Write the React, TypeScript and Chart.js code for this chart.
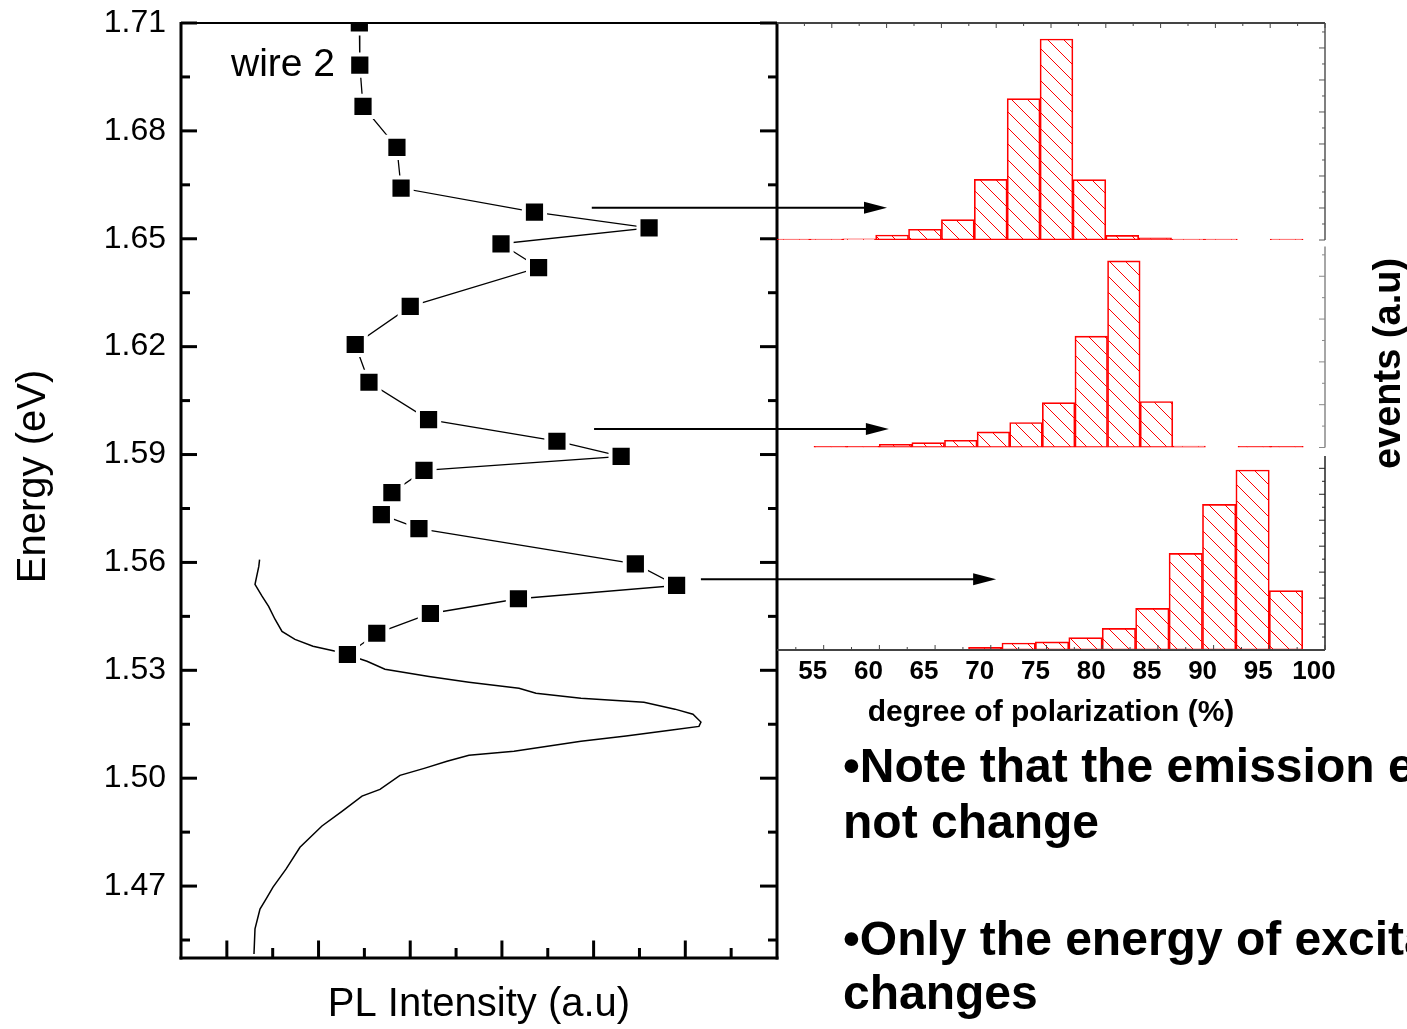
import React, { useEffect, useRef } from 'react';
import { Chart, registerables } from 'chart.js';

Chart.register(...registerables);

const W = 1407;
const H = 1029;
const SANS = "'Liberation Sans', Arial, Helvetica, sans-serif";
const RED = '#ff0000';

// ---------- wire 2: PL intensity versus excitation energy ----------
const excitationEnergy = [
  1.71, 1.6983, 1.6868, 1.6754, 1.6641, 1.6574, 1.653, 1.6486, 1.642, 1.6312,
  1.6206, 1.6101, 1.5997, 1.5937, 1.5895, 1.5856, 1.5794, 1.5733, 1.5694,
  1.5596, 1.5536, 1.5499, 1.5458, 1.5403, 1.5344,
];
const excitationIntensity = [
  3.89, 3.9, 3.97, 4.71, 4.8, 7.71, 10.21, 6.98, 7.8, 5.0,
  3.8, 4.1, 5.4, 8.2, 9.6, 5.3, 4.6, 4.37, 5.19,
  9.91, 10.81, 7.36, 5.44, 4.27, 3.63,
];

// PL emission spectrum
const plEnergy = [
  1.5608, 1.5589, 1.5539, 1.5506, 1.5478, 1.5442, 1.5408, 1.5386, 1.5367, 1.535,
  1.5325, 1.5303, 1.5283, 1.5267, 1.525, 1.5236, 1.5222, 1.5211, 1.5192, 1.5178,
  1.5156, 1.5144, 1.5133, 1.5117, 1.5103, 1.5075, 1.5064, 1.5047, 1.5028, 1.5008,
  1.4969, 1.495, 1.4908, 1.4867, 1.4808, 1.4747, 1.4697, 1.4664, 1.4636, 1.4581, 1.4511,
];
const plIntensity = [
  1.714, 1.697, 1.614, 1.767, 1.911, 2.05, 2.203, 2.486, 2.879, 3.468,
  4.057, 4.449, 5.409, 6.281, 7.372, 7.743, 8.724, 10.098, 10.774, 11.167,
  11.341, 11.298, 10.665, 9.706, 8.724, 7.263, 6.281, 5.802, 5.322, 4.776,
  4.34, 3.948, 3.511, 3.075, 2.595, 2.29, 2.007, 1.854, 1.723, 1.614, 1.592,
];

const energyTicks = [1.47, 1.5, 1.53, 1.56, 1.59, 1.62, 1.65, 1.68, 1.71];
const energyMin = 1.45;
const energyMax = 1.71;
const intensityMin = 0;
const intensityMax = 13;

// arrows from selected excitation energies towards their histograms
const arrowEnergy = [1.6586, 1.5971, 1.5553];
const arrowFrom = [8.96, 9.01, 11.34];
const arrowTo = [15.4, 15.44, 17.78];

// ---------- degree-of-polarization histograms (3 % bins) ----------
const binsHigh = [51.5, 54.5, 57.5, 60.5, 63.5, 66.5, 69.5, 72.5, 75.5, 78.5, 81.5, 84.5, 87.5, 90.5, 93.5, 96.5];
const eventsHigh = [0.6, 0.6, 0.8, 3.1, 6.7, 12.7, 37.9, 88.3, 125.6, 37.7, 2.9, 1.3, 0.6, 0.6, null, 0.6];

const binsMid = [54.5, 57.5, 60.5, 63.5, 66.5, 69.5, 72.5, 75.5, 78.5, 81.5, 84.5, 87.5, 90.5, 93.5, 96.5];
const eventsMid = [0.5, 0.5, 1.5, 2.3, 3.4, 7.3, 11.7, 21.0, 52.0, 87.2, 21.5, 0.7, null, 0.5, 0.5];

const binsLow = [57.5, 60.5, 63.5, 66.5, 69.5, 72.5, 75.5, 78.5, 81.5, 84.5, 87.5, 90.5, 93.5, 96.5];
const eventsLow = [0.5, 0.4, 0.5, 0.5, 2.1, 5.4, 6.2, 9.5, 16.7, 32.1, 74.5, 112.2, 138.7, 45.7];

const polarizationTicks = [55, 60, 65, 70, 75, 80, 85, 90, 95, 100];

function seg(ctx: CanvasRenderingContext2D, x1: number, y1: number, x2: number, y2: number) {
  ctx.beginPath();
  ctx.moveTo(x1, y1);
  ctx.lineTo(x2, y2);
  ctx.stroke();
}

function makeHatch(): CanvasPattern | string {
  const s = 16;
  const c = document.createElement('canvas');
  c.width = s;
  c.height = s;
  const g = c.getContext('2d');
  if (!g) return 'rgba(255,0,0,0.2)';
  g.strokeStyle = RED;
  g.lineWidth = 1;
  g.beginPath();
  g.moveTo(-2, -2);
  g.lineTo(s + 2, s + 2);
  g.moveTo(-2, s - 2);
  g.lineTo(2, s + 2);
  g.moveTo(s - 2, -2);
  g.lineTo(s + 2, 2);
  g.stroke();
  return g.createPattern(c, 'repeat') || 'rgba(255,0,0,0.2)';
}

// frame, inward ticks, arrows and labels of the energy panel
const energyFrame = {
  id: 'energyFrame',
  afterDraw(chart: any) {
    const { ctx, chartArea: a, scales } = chart;
    const xs = scales.x;
    const ys = scales.y;
    ctx.save();
    ctx.strokeStyle = '#000';
    ctx.fillStyle = '#000';
    ctx.lineWidth = 2;
    seg(ctx, a.left, a.top, a.right, a.top);
    ctx.lineWidth = 3;
    seg(ctx, a.left, a.top - 1, a.left, a.bottom + 1.5);
    seg(ctx, a.right, a.top - 1, a.right, a.bottom + 1.5);
    seg(ctx, a.left - 1.5, a.bottom, a.right + 1.5, a.bottom);

    energyTicks.forEach((v) => {
      const py = ys.getPixelForValue(v);
      seg(ctx, a.left, py, a.left + 16, py);
      seg(ctx, a.right - 17, py, a.right, py);
      const pm = ys.getPixelForValue(v - 0.015);
      seg(ctx, a.left, pm, a.left + 9, pm);
      seg(ctx, a.right - 9, pm, a.right, pm);
    });
    for (let i = intensityMin + 1; i < intensityMax; i++) {
      const px = xs.getPixelForValue(i);
      const len = i % 2 === 1 ? 17.5 : 10;
      seg(ctx, px, a.bottom, px, a.bottom - len);
    }

    ctx.lineWidth = 2;
    arrowEnergy.forEach((e, i) => {
      const py = ys.getPixelForValue(e);
      const x1 = xs.getPixelForValue(arrowFrom[i]);
      const x2 = xs.getPixelForValue(arrowTo[i]);
      seg(ctx, x1, py, x2 - 20, py);
      ctx.beginPath();
      ctx.moveTo(x2, py);
      ctx.lineTo(x2 - 23, py - 6);
      ctx.lineTo(x2 - 23, py + 6);
      ctx.closePath();
      ctx.fill();
    });

    ctx.font = `39px ${SANS}`;
    ctx.textAlign = 'left';
    ctx.textBaseline = 'alphabetic';
    ctx.fillText('wire 2', a.left + 50, a.top + 53);

    ctx.save();
    ctx.translate(45, (a.top + a.bottom) / 2 - 14);
    ctx.rotate(-Math.PI / 2);
    ctx.font = `40px ${SANS}`;
    ctx.textAlign = 'center';
    ctx.fillText('Energy (eV)', 0, 0);
    ctx.restore();
    ctx.restore();
  },
};

type FrameSpec = {
  topLine: boolean;
  bottomLine: boolean;
  rightColor: string;
  axisTitle: boolean;
};

function histFrame(spec: FrameSpec) {
  return {
    id: 'histFrame',
    afterDatasetsDraw(chart: any) {
      const { ctx, chartArea: a, scales } = chart;
      const xs = scales.x;
      const ys = scales.y;
      ctx.save();
      ctx.strokeStyle = spec.rightColor;
      ctx.lineWidth = 1.5;
      seg(ctx, a.right, a.top, a.right, a.bottom);
      ctx.lineWidth = 1;
      for (let v = 0; v <= ys.max; v += 10) {
        const py = ys.getPixelForValue(v);
        const len = v % 20 === 0 ? 6 : 3;
        seg(ctx, a.right - len, py, a.right, py);
      }
      const drawX = (y0: number, dir: number) => {
        ctx.strokeStyle = '#444';
        ctx.lineWidth = 1.8;
        seg(ctx, a.left, y0, a.right, y0);
        ctx.lineWidth = 1;
        for (let v = 100; v > xs.min; v -= 2.5) {
          const px = xs.getPixelForValue(v);
          const len = v % 5 === 0 ? 5 : 3;
          seg(ctx, px, y0, px, y0 + dir * len);
        }
      };
      if (spec.topLine) drawX(a.top, 1);
      if (spec.bottomLine) drawX(a.bottom, -1);

      if (spec.axisTitle) {
        ctx.save();
        ctx.translate(1400, a.top + 117);
        ctx.rotate(-Math.PI / 2);
        ctx.fillStyle = '#000';
        ctx.font = `bold 38px ${SANS}`;
        ctx.textAlign = 'center';
        ctx.textBaseline = 'alphabetic';
        ctx.fillText('events (a.u)', 0, 0);
        ctx.restore();
      }
      ctx.restore();
    },
  };
}

function histConfig(
  centers: number[],
  counts: (number | null)[],
  hatch: CanvasPattern | string,
  xMin: number,
  yMax: number,
  top: number,
  bottom: number,
  spec: FrameSpec,
  withAxis: boolean,
): any {
  const axisHeight = withAxis ? 81 : 0;
  return {
    type: 'bar',
    data: {
      datasets: [
        {
          label: 'events',
          data: centers.map((c, i) => ({ x: c, y: counts[i] })),
          backgroundColor: hatch,
          borderColor: RED,
          borderWidth: 1,
          borderSkipped: false,
          barPercentage: 1,
          categoryPercentage: 1,
        },
      ],
    },
    options: {
      responsive: false,
      animation: false,
      events: [],
      layout: { padding: { left: 777, right: W - 1325, top, bottom: H - bottom - axisHeight } },
      plugins: { legend: { display: false }, tooltip: { enabled: false } },
      scales: {
        x: {
          type: 'linear',
          min: xMin,
          max: 100,
          offset: false,
          display: withAxis,
          grid: { display: false, drawTicks: false },
          border: { display: false },
          afterBuildTicks: (s: any) => {
            s.ticks = polarizationTicks.map((v) => ({ value: v }));
          },
          ticks: {
            color: '#000',
            font: { family: SANS, size: 26, weight: 'bold' },
            padding: 6,
            labelOffset: -11,
            autoSkip: false,
            maxRotation: 0,
          },
          title: {
            display: withAxis,
            text: 'degree of polarization (%)',
            color: '#000',
            font: { family: SANS, size: 30, weight: 'bold' },
            padding: 0,
          },
          afterFit: (s: any) => {
            s.height = axisHeight;
          },
        },
        y: { type: 'linear', min: 0, max: yMax, display: false },
      },
    },
    plugins: [histFrame(spec)],
  };
}

function energyConfig(): any {
  return {
    type: 'scatter',
    data: {
      datasets: [
        {
          label: 'wire 2',
          data: excitationEnergy.map((e, i) => ({ x: excitationIntensity[i], y: e })),
          showLine: true,
          borderColor: '#000',
          borderWidth: 1.3,
          pointStyle: 'rect',
          pointRadius: 15,
          pointBackgroundColor: '#000',
          pointBorderColor: '#fff',
          pointBorderWidth: 4,
          clip: 0,
          order: 0,
        },
        {
          label: 'PL',
          data: plEnergy.map((e, i) => ({ x: plIntensity[i], y: e })),
          showLine: true,
          borderColor: '#000',
          borderWidth: 1.5,
          pointRadius: 0,
          order: 1,
        },
      ],
    },
    options: {
      responsive: false,
      animation: false,
      events: [],
      layout: { padding: { left: 0, top: 23, right: W - 777, bottom: 0 } },
      plugins: { legend: { display: false }, tooltip: { enabled: false } },
      scales: {
        x: {
          type: 'linear',
          min: intensityMin,
          max: intensityMax,
          grid: { display: false, drawTicks: false },
          border: { display: false },
          ticks: { display: false },
          title: {
            display: true,
            text: 'PL Intensity (a.u)',
            color: '#000',
            font: { family: SANS, size: 40 },
            padding: 0,
          },
          afterFit: (s: any) => {
            s.height = 71;
          },
        },
        y: {
          type: 'linear',
          min: energyMin,
          max: energyMax,
          grid: { display: false, drawTicks: true, tickLength: 15 },
          border: { display: false },
          afterBuildTicks: (s: any) => {
            s.ticks = energyTicks.map((v) => ({ value: v }));
          },
          ticks: {
            color: '#000',
            font: { family: SANS, size: 32 },
            padding: 0,
            callback: (v: any) => Number(v).toFixed(2),
          },
          afterFit: (s: any) => {
            s.width = 181;
          },
        },
      },
    },
    plugins: [energyFrame],
  };
}

export default function App() {
  const energyRef = useRef<HTMLCanvasElement>(null);
  const highRef = useRef<HTMLCanvasElement>(null);
  const midRef = useRef<HTMLCanvasElement>(null);
  const lowRef = useRef<HTMLCanvasElement>(null);

  useEffect(() => {
    const hatch = makeHatch();
    const charts: Chart[] = [];
    if (energyRef.current) charts.push(new Chart(energyRef.current, energyConfig()));
    if (highRef.current)
      charts.push(
        new Chart(
          highRef.current,
          histConfig(binsHigh, eventsHigh, hatch, 50, 135.6, 23, 240,
            { topLine: true, bottomLine: false, rightColor: '#555', axisTitle: false }, false),
        ),
      );
    if (midRef.current)
      charts.push(
        new Chart(
          midRef.current,
          histConfig(binsMid, eventsMid, hatch, 49.6, 93.9, 246.5, 447.5,
            { topLine: false, bottomLine: false, rightColor: '#888', axisTitle: true }, false),
        ),
      );
    if (lowRef.current)
      charts.push(
        new Chart(
          lowRef.current,
          histConfig(binsLow, eventsLow, hatch, 50.81, 149.5, 456, 650,
            { topLine: false, bottomLine: true, rightColor: '#222', axisTitle: false }, true),
        ),
      );
    return () => charts.forEach((c) => c.destroy());
  }, []);

  const layer: React.CSSProperties = {
    position: 'absolute',
    left: 0,
    top: 0,
    width: W,
    height: H,
    pointerEvents: 'none',
  };
  const note: React.CSSProperties = {
    position: 'absolute',
    left: 843,
    font: `bold 48px ${SANS}`,
    color: '#000',
    whiteSpace: 'nowrap',
  };

  return (
    <div
      style={{
        position: 'absolute',
        left: 0,
        top: 0,
        width: W,
        height: H,
        overflow: 'hidden',
        background: '#fff',
      }}
    >
      <canvas ref={energyRef} width={W} height={H} style={layer} />
      <canvas ref={highRef} width={W} height={H} style={layer} />
      <canvas ref={midRef} width={W} height={H} style={layer} />
      <canvas ref={lowRef} width={W} height={H} style={layer} />
      <div style={{ ...note, top: 738, lineHeight: '56px' }}>
        •Note that the emission energy does
        <br />
        not change
      </div>
      <div style={{ ...note, top: 912, lineHeight: '54px' }}>
        •Only the energy of excitation
        <br />
        changes
      </div>
    </div>
  );
}
